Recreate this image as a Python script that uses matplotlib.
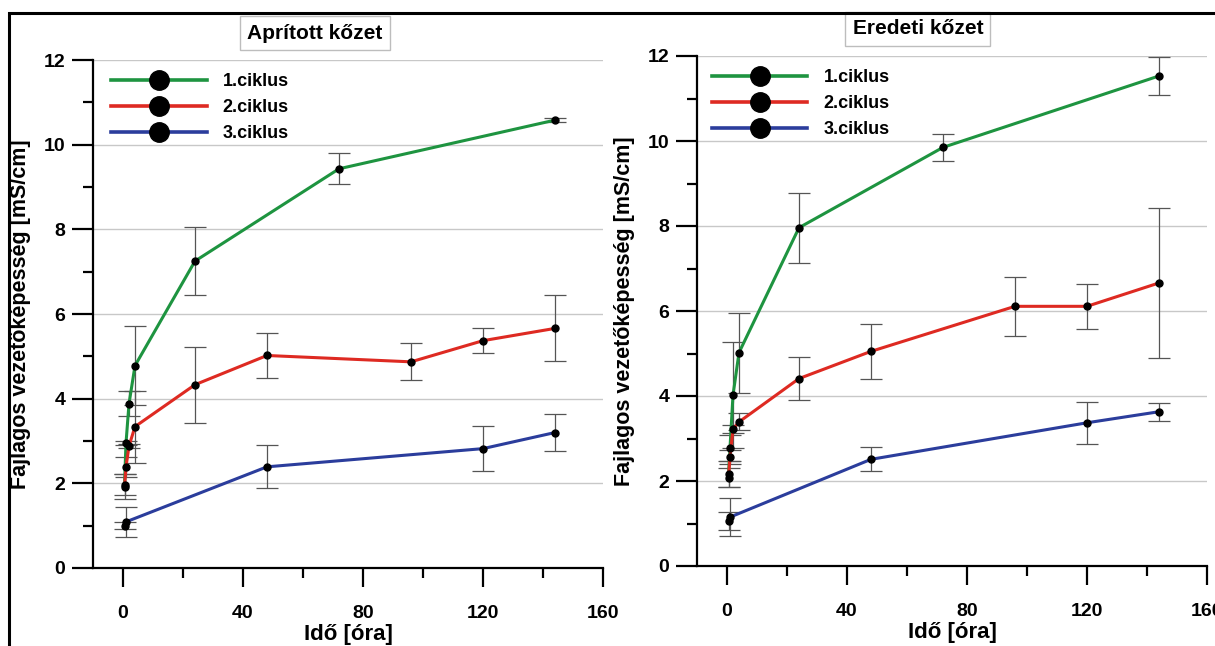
import matplotlib
matplotlib.use("Agg")
import matplotlib.pyplot as plt
from matplotlib.lines import Line2D
from matplotlib.patches import Rectangle

plt.rcParams['font.family'] = ['Liberation Sans', 'DejaVu Sans']
plt.rcParams['font.weight'] = 'bold'

# Apritott kozet (left panel)
left_green_t = [0.5, 1, 2, 4, 24, 72, 144]
left_green_v = [1.97, 2.95, 3.88, 4.78, 7.25, 9.43, 10.58]
left_green_e = [0.25, 0.05, 0.30, 0.93, 0.80, 0.37, 0.05]
left_red_t = [0.5, 1, 2, 4, 24, 48, 96, 120, 144]
left_red_v = [1.92, 2.39, 2.88, 3.34, 4.33, 5.02, 4.87, 5.37, 5.66]
left_red_e = [0.30, 0.24, 0.05, 0.85, 0.90, 0.52, 0.44, 0.29, 0.78]
left_blue_t = [0.5, 1, 48, 120, 144]
left_blue_v = [1.00, 1.09, 2.39, 2.82, 3.20]
left_blue_e = [0.08, 0.35, 0.51, 0.53, 0.43]

# Eredeti kozet (right panel)
right_green_t = [0.5, 1, 2, 4, 24, 72, 144]
right_green_v = [2.16, 2.78, 4.02, 5.02, 7.96, 9.85, 11.53]
right_green_e = [0.30, 0.30, 1.24, 0.94, 0.82, 0.32, 0.45]
right_red_t = [0.5, 1, 2, 4, 24, 48, 96, 120, 144]
right_red_v = [2.08, 2.57, 3.22, 3.39, 4.41, 5.05, 6.11, 6.11, 6.66]
right_red_e = [0.23, 0.17, 0.10, 0.20, 0.50, 0.64, 0.70, 0.53, 1.76]
right_blue_t = [0.5, 1, 48, 120, 144]
right_blue_v = [1.06, 1.15, 2.51, 3.37, 3.63]
right_blue_e = [0.22, 0.45, 0.28, 0.50, 0.21]

labels = ["1.ciklus", "2.ciklus", "3.ciklus"]
colors = ["#1e9440", "#de2a22", "#2b3d9c"]
x_ticks = [0, 40, 80, 120, 160]
y_ticks = [0, 2, 4, 6, 8, 10, 12]

W, H = 1215, 646
fig = plt.figure(figsize=(W / 100, H / 100), dpi=100)

# outer frame
fig.patches.append(Rectangle((9 / W, -0.2), 1.5, 1.2 - 13 / H, transform=fig.transFigure,
                             fill=False, edgecolor='black', linewidth=2.2))


def panel(rect, title, series, lx, title_x):
    ax = fig.add_axes(rect)
    for (t, v, e), c in zip(series, colors):
        ax.errorbar(t, v, yerr=e, fmt='none', ecolor='#555555', elinewidth=0.9,
                    capsize=8, capthick=0.9, zorder=2)
        ax.plot(t, v, color=c, lw=2.2, zorder=3)
        ax.plot(t, v, 'o', color='black', ms=5, zorder=4)
    ax.set_xlim(-10, 160)
    ax.set_ylim(0, 12)
    ax.set_xticks(x_ticks)
    ax.set_xticks([20, 60, 100, 140], minor=True)
    ax.set_yticks(y_ticks)
    ax.set_yticks([1, 3, 5, 7, 9, 11], minor=True)
    for s in ['top', 'right']:
        ax.spines[s].set_visible(False)
    for s in ['left', 'bottom']:
        ax.spines[s].set_linewidth(1.6)
    ax.tick_params(axis='both', which='major', direction='out', width=1.6, labelsize=14)
    ax.tick_params(axis='y', which='major', length=15, pad=5)
    ax.tick_params(axis='x', which='major', length=14, pad=13)
    ax.tick_params(axis='y', which='minor', length=7, width=1.6)
    ax.tick_params(axis='x', which='minor', length=7, width=1.6)
    ax.grid(axis='y', which='major', color='#c8c8c8', lw=1.0, zorder=0)
    ax.set_axisbelow(True)
    ax.set_xlabel("Idő [óra]", fontsize=16, fontweight='bold')
    ax.set_ylabel("Fajlagos vezetőképesség [mS/cm]", fontsize=15.5, fontweight='bold')
    ax.xaxis.set_label_coords(0.5, -0.11)
    ax.yaxis.set_label_coords(-0.122, 0.5)
    ax.text(title_x, 1.053, title, transform=ax.transAxes, ha='center', va='center',
            fontsize=15, fontweight='bold',
            bbox=dict(boxstyle='square,pad=0.35', fc='white', ec='#bdbdbd', lw=1.0))
    handles = [Line2D([0], [0], color=c, lw=2.6, marker='o', ms=14,
                      markerfacecolor='black', markeredgecolor='black') for c in colors]
    ax.legend(handles, labels, loc='upper left', bbox_to_anchor=(lx, 0.974), frameon=False,
              handlelength=5.3, handletextpad=0.9, labelspacing=0.5,
              borderaxespad=0, borderpad=0, numpoints=1,
              prop={'weight': 'bold', 'size': 13})
    return ax


panel([93 / W, 1 - 568 / H, 510 / W, 508 / H], "Aprított kőzet",
      [(left_green_t, left_green_v, left_green_e),
       (left_red_t, left_red_v, left_red_e),
       (left_blue_t, left_blue_v, left_blue_e)], 0.035, 0.435)

panel([697 / W, 1 - 566 / H, 510 / W, 510 / H], "Eredeti kőzet",
      [(right_green_t, right_green_v, right_green_e),
       (right_red_t, right_red_v, right_red_e),
       (right_blue_t, right_blue_v, right_blue_e)], 0.029, 0.433)

fig.savefig("out.png", dpi=100)
